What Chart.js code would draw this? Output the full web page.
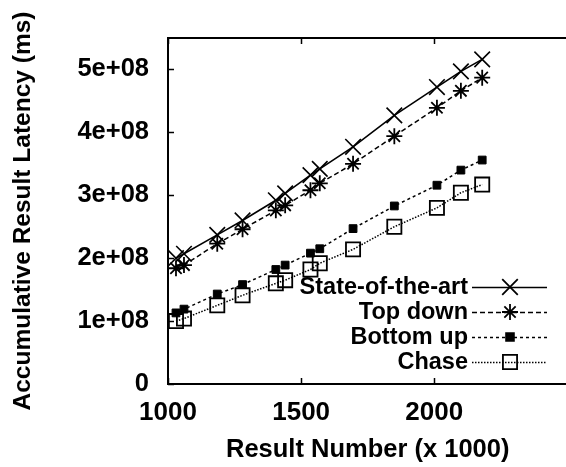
<!DOCTYPE html>
<html>
<head>
<meta charset="utf-8">
<script src="https://cdn.jsdelivr.net/npm/chart.js@4.4.1/dist/chart.umd.min.js"></script>
<style>
html, body { margin: 0; padding: 0; background: #fff; overflow: hidden; }
#latencyChart { display: block; }
</style>
</head>
<body>
<canvas id="latencyChart" width="580" height="467"></canvas>
<script>
// Result number (x 1000) at each measurement
const resultNumbers = [1030, 1060, 1185, 1280, 1405, 1440, 1535, 1570, 1695, 1850, 2010, 2100, 2180];

// Accumulative result latency (ms) per method
const stateOfTheArt = [2.00e8, 2.07e8, 2.37e8, 2.60e8, 2.92e8, 3.03e8, 3.32e8, 3.42e8, 3.77e8, 4.27e8, 4.72e8, 4.97e8, 5.16e8];
const topDown       = [1.84e8, 1.89e8, 2.23e8, 2.46e8, 2.76e8, 2.84e8, 3.08e8, 3.19e8, 3.50e8, 3.94e8, 4.39e8, 4.66e8, 4.87e8];
const bottomUp      = [1.13e8, 1.19e8, 1.43e8, 1.58e8, 1.82e8, 1.89e8, 2.08e8, 2.15e8, 2.47e8, 2.83e8, 3.16e8, 3.40e8, 3.56e8];
const chase         = [1.00e8, 1.04e8, 1.25e8, 1.41e8, 1.60e8, 1.65e8, 1.82e8, 1.92e8, 2.14e8, 2.50e8, 2.80e8, 3.04e8, 3.17e8];

const seriesLabels = ['State-of-the-art', 'Top down', 'Bottom up', 'Chase'];
const xTickValues = [1000, 1500, 2000];
const yTickValues = [0, 1e8, 2e8, 3e8, 4e8, 5e8];

const FONT = "'Liberation Sans', Arial, sans-serif";

function toPoints(ys) {
    return resultNumbers.map((x, i) => ({ x: x, y: ys[i] }));
}

function formatLatency(value) {
    if (value === 0) return '0';
    return (value / 1e8) + 'e+08';
}

// gnuplot-like frame: top border plus inward tick marks
const frameTicks = {
    id: 'frameTicks',
    afterDraw(chart) {
        const ctx = chart.ctx;
        const area = chart.chartArea;
        const xs = chart.scales.x;
        const ys = chart.scales.y;
        ctx.save();
        ctx.strokeStyle = '#000';
        ctx.lineWidth = 2;
        ctx.beginPath();
        ctx.moveTo(area.left - 1, area.top);
        ctx.lineTo(area.right + 10, area.top);
        ctx.stroke();

        ctx.lineWidth = 1.5;
        ctx.beginPath();
        xTickValues.forEach(v => {
            const px = Math.round(xs.getPixelForValue(v)) + 0.5;
            ctx.moveTo(px, area.bottom);
            ctx.lineTo(px, area.bottom - 6);
            ctx.moveTo(px, area.top);
            ctx.lineTo(px, area.top + 6);
        });
        yTickValues.forEach(v => {
            const py = Math.round(ys.getPixelForValue(v)) + 0.5;
            ctx.moveTo(area.left, py);
            ctx.lineTo(area.left + 6, py);
        });
        ctx.stroke();
        ctx.restore();
    }
};

// legend drawn as "label ---marker---" rows, right aligned inside the plot
const keyBox = {
    id: 'keyBox',
    afterDraw(chart) {
        const ctx = chart.ctx;
        const textRight = 468;
        const lineStart = 472;
        const lineEnd = 547;
        const markerX = 510;
        const firstRow = 287;
        const rowGap = 25;
        ctx.save();
        ctx.font = 'bold 23.5px ' + FONT;
        ctx.textAlign = 'right';
        ctx.textBaseline = 'middle';
        ctx.fillStyle = '#000';
        chart.data.datasets.forEach((ds, i) => {
            const y = firstRow + i * rowGap;
            ctx.fillText(ds.label, textRight, y + 1);

            ctx.save();
            ctx.strokeStyle = '#000';
            ctx.lineWidth = ds.borderWidth;
            ctx.setLineDash(ds.borderDash || []);
            ctx.beginPath();
            ctx.moveTo(lineStart, y + 0.5);
            ctx.lineTo(lineEnd, y + 0.5);
            ctx.stroke();
            ctx.restore();

            ctx.save();
            ctx.strokeStyle = '#000';
            ctx.fillStyle = ds.pointBackgroundColor;
            Chart.helpers.drawPoint(ctx, {
                pointStyle: ds.pointStyle,
                radius: ds.pointRadius,
                rotation: 0,
                borderWidth: ds.pointBorderWidth
            }, markerX, y);
            ctx.restore();
        });
        ctx.restore();
    }
};

const ctx = document.getElementById('latencyChart').getContext('2d');
const latencyChart = new Chart(ctx, {
    type: 'line',
    data: {
        datasets: [
            {
                label: seriesLabels[0],
                data: toPoints(stateOfTheArt),
                borderColor: '#000',
                borderWidth: 1.6,
                pointStyle: 'crossRot',
                pointRadius: 11,
                pointBorderWidth: 1.6,
                pointBorderColor: '#000',
                pointBackgroundColor: '#000',
                order: 4
            },
            {
                label: seriesLabels[1],
                data: toPoints(topDown),
                borderColor: '#000',
                borderWidth: 1.5,
                borderDash: [5, 3],
                pointStyle: 'star',
                pointRadius: 8,
                pointBorderWidth: 1.8,
                pointBorderColor: '#000',
                pointBackgroundColor: '#000',
                order: 3
            },
            {
                label: seriesLabels[2],
                data: toPoints(bottomUp),
                borderColor: '#000',
                borderWidth: 1.5,
                borderDash: [3, 3],
                pointStyle: 'rect',
                pointRadius: 5.5,
                pointBorderWidth: 1,
                pointBorderColor: '#000',
                pointBackgroundColor: '#000',
                order: 2
            },
            {
                label: seriesLabels[3],
                data: toPoints(chase),
                borderColor: '#000',
                borderWidth: 1.5,
                borderDash: [1.5, 1.5],
                pointStyle: 'rect',
                pointRadius: 10,
                pointBorderWidth: 1.8,
                pointBorderColor: '#000',
                pointBackgroundColor: 'rgba(0,0,0,0)',
                order: 1
            }
        ]
    },
    options: {
        responsive: false,
        animation: false,
        devicePixelRatio: 1,
        events: [],
        clip: false,
        layout: {
            padding: { top: 38, right: 4, left: 0, bottom: 0 }
        },
        elements: {
            line: { tension: 0, fill: false }
        },
        plugins: {
            legend: { display: false },
            tooltip: { enabled: false }
        },
        scales: {
            x: {
                type: 'linear',
                min: 1000,
                max: 2500,
                afterFit: scale => { scale.height = 83; },
                afterBuildTicks: scale => {
                    scale.ticks = xTickValues.map(v => ({ value: v }));
                },
                grid: { display: false, drawTicks: false },
                border: { display: true, color: '#000', width: 2 },
                ticks: {
                    color: '#000',
                    padding: 13,
                    maxRotation: 0,
                    callback: value => String(value),
                    font: { family: FONT, size: 26, weight: 'bold' }
                },
                title: {
                    display: true,
                    text: 'Result Number (x 1000)',
                    color: '#000',
                    padding: { top: 0, bottom: 2 },
                    font: { family: FONT, size: 25.5, weight: 'bold', lineHeight: 1.2 }
                }
            },
            y: {
                type: 'linear',
                min: 0,
                max: 5.5e8,
                afterFit: scale => { scale.width = 168; },
                afterBuildTicks: scale => {
                    scale.ticks = yTickValues.map(v => ({ value: v }));
                },
                grid: { display: false, drawTicks: false },
                border: { display: true, color: '#000', width: 2 },
                ticks: {
                    color: '#000',
                    padding: 19,
                    callback: value => formatLatency(value),
                    font: { family: FONT, size: 25.5, weight: 'bold' }
                },
                title: {
                    display: true,
                    text: 'Accumulative Result Latency (ms)',
                    color: '#000',
                    padding: { top: 9, bottom: 0 },
                    font: { family: FONT, size: 24.5, weight: 'bold', lineHeight: 1.2 }
                }
            }
        }
    },
    plugins: [frameTicks, keyBox]
});
</script>
</body>
</html>
